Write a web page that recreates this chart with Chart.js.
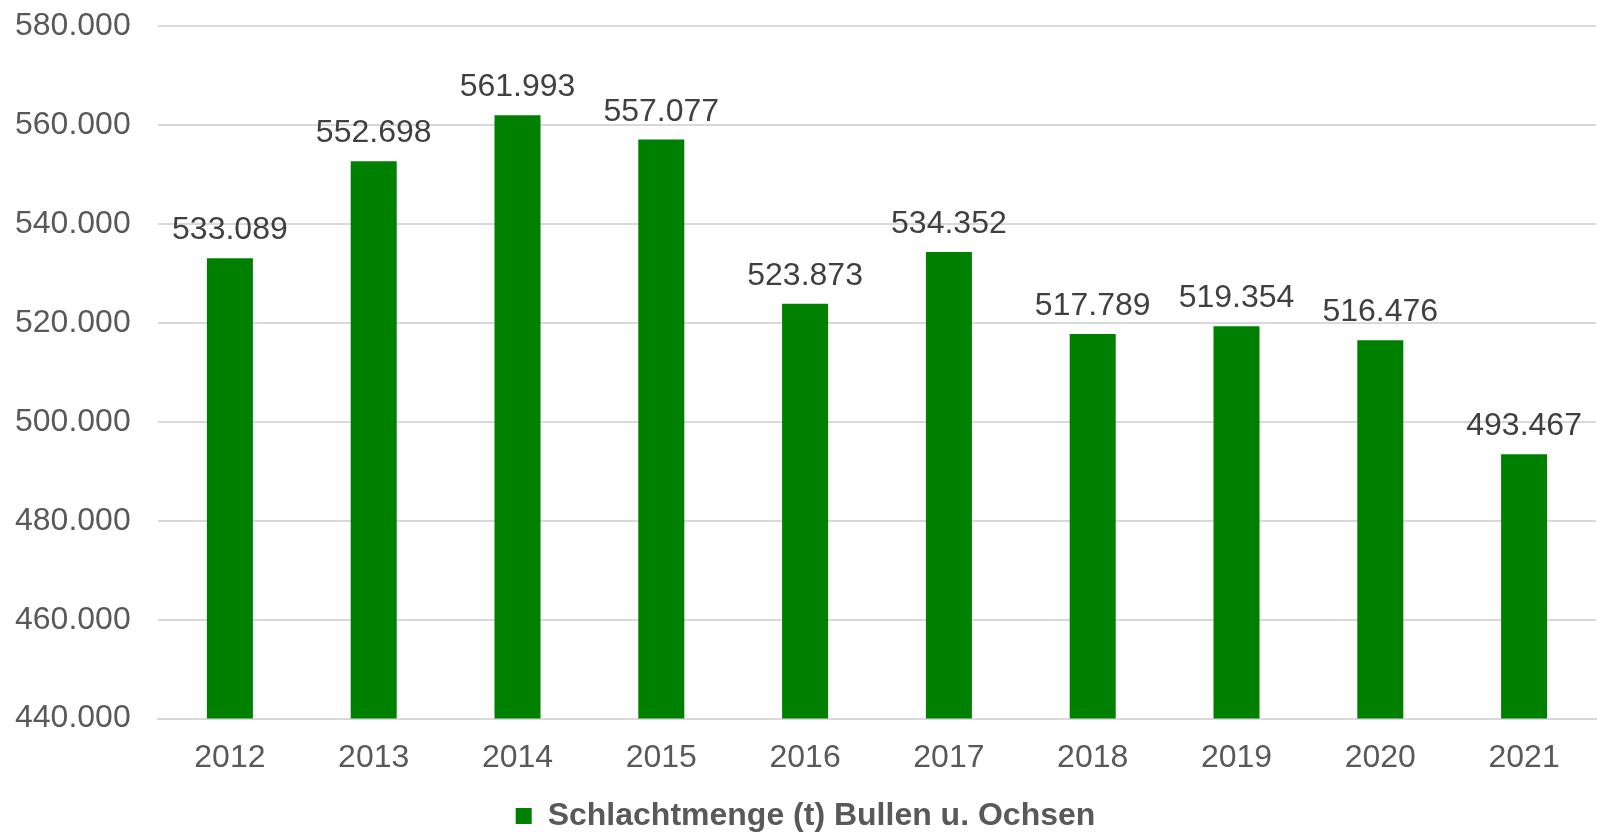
<!DOCTYPE html>
<html lang="de">
<head>
  <meta charset="UTF-8" />
  <title>Schlachtmenge Bullen u. Ochsen</title>
  <script src="https://cdn.jsdelivr.net/npm/chart.js"></script>
  <style>
    body { margin: 0; background: #fff; }
    #wrap { width: 1597px; height: 832px; position: relative; }
  </style>
</head>
<body>
  <div id="wrap"><canvas id="chart"></canvas></div>
  <script>
    // Daten
    const years  = ['2012','2013','2014','2015','2016','2017','2018','2019','2020','2021'];
    const tonnes = [533089, 552698, 561993, 557077, 523873, 534352, 517789, 519354, 516476, 493467];
    const seriesName = 'Schlachtmenge (t) Bullen u. Ochsen';

    const fmt = v => v.toLocaleString('de-DE');
    const FONT = '"Liberation Sans", Arial, sans-serif';

    // Werte über den Balken
    const valueLabels = {
      id: 'valueLabels',
      afterDatasetsDraw(chart) {
        const ctx = chart.ctx;
        const meta = chart.getDatasetMeta(0);
        ctx.save();
        ctx.font = '32px ' + FONT;
        ctx.fillStyle = '#404040';
        ctx.textAlign = 'center';
        ctx.textBaseline = 'alphabetic';
        meta.data.forEach((bar, i) => {
          ctx.fillText(fmt(tonnes[i]), bar.x, bar.y - 19);
        });
        ctx.restore();
      }
    };

    new Chart(document.getElementById('chart'), {
      type: 'bar',
      data: {
        labels: years,
        datasets: [{
          label: seriesName,
          data: tonnes,
          backgroundColor: '#008000',
          barPercentage: 0.32,
          categoryPercentage: 1
        }]
      },
      options: {
        responsive: true,
        maintainAspectRatio: false,
        animation: false,
        layout: { padding: { top: 0, right: 1, left: 15, bottom: -10 } },
        scales: {
          x: {
            grid: { display: false },
            border: { color: '#d9d9d9', width: 2 },
            ticks: {
              color: '#595959',
              padding: 12,
              font: { family: FONT, size: 32 }
            }
          },
          y: {
            min: 440000, max: 580000,
            border: { display: false },
            grid: { color: '#d9d9d9', lineWidth: 2, drawTicks: false },
            afterFit(scale) { scale.width = 143; },
            ticks: {
              stepSize: 20000,
              color: '#595959',
              padding: 7,
              crossAlign: 'far',
              callback: v => fmt(v),
              font: { family: FONT, size: 32 }
            }
          }
        },
        plugins: {
          legend: {
            position: 'bottom',
            labels: {
              color: '#595959',
              boxWidth: 16,
              boxHeight: 16,
              padding: 11,
              font: { family: FONT, size: 32, weight: 'bold' }
            }
          },
          tooltip: { enabled: false }
        }
      },
      plugins: [valueLabels]
    });
  </script>
</body>
</html>
